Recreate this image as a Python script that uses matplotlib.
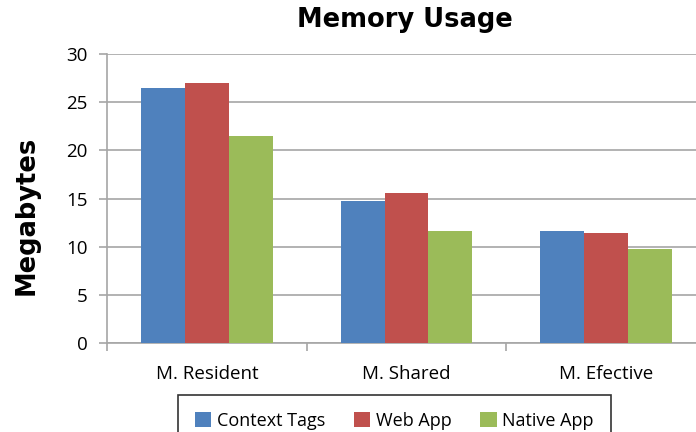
import matplotlib
matplotlib.use("Agg")
import matplotlib.pyplot as plt
import numpy as np

categories = ["M. Resident", "M. Shared", "M. Efective"]
series_names = ["Context Tags", "Web App", "Native App"]
context_tags = [26.5, 14.75, 11.6]
web_app = [27.0, 15.6, 11.4]
native_app = [21.5, 11.6, 9.75]
colors = ["#4F81BD", "#C0504D", "#9BBB59"]

W, H = 696, 432
fig = plt.figure(figsize=(W/100, H/100), dpi=100)
ax = fig.add_axes([107/W, 1-343/H, (706-107)/W, (343-54)/H])

x = np.arange(len(categories))
bw = 0.22
for i, (vals, name, c) in enumerate(zip([context_tags, web_app, native_app], series_names, colors)):
    ax.bar(x + (i-1)*bw, vals, bw, color=c, label=name, zorder=3, linewidth=0)

ax.set_xlim(-0.5, 2.5)
ax.set_ylim(0, 30)
ax.set_yticks(range(0, 31, 5))
ax.yaxis.grid(True, color="#A6A6A6", linewidth=1.2, zorder=0)
ax.set_xticks(x)
ax.set_xticklabels(categories, fontsize=13.5, family="Open Sans")
ax.set_xticks(np.arange(-0.5, 3, 1), minor=True)
ax.tick_params(axis="x", which="major", length=0, pad=16)
ax.tick_params(axis="x", which="minor", length=6, color="#A6A6A6", width=1.2)
ax.tick_params(axis="y", length=6, color="#A6A6A6", width=1.2, labelsize=13.5, pad=8)
for lab in ax.get_yticklabels():
    lab.set_family("Open Sans")
for s in ["top", "right"]:
    ax.spines[s].set_visible(False)
for s in ["left", "bottom"]:
    ax.spines[s].set_color("#A6A6A6")
    ax.spines[s].set_linewidth(1.2)

fig.text(405/W, 1-20/H, "Memory Usage", ha="center", va="center", fontsize=18.5, fontweight="bold", family="DejaVu Sans")
fig.text(27/W, 1-215/H, "Megabytes", ha="center", va="center", rotation=90, fontsize=18.5, fontweight="bold", family="DejaVu Sans")

leg = fig.legend(loc="upper left", bbox_to_anchor=(178/W, 1-395/H), ncol=3, frameon=True,
                 fancybox=False, edgecolor="black", prop={"family": "Open Sans", "size": 13},
                 handlelength=0.9, handleheight=0.9, handletextpad=0.3, columnspacing=1.6,
                 borderpad=0.95, borderaxespad=0)
leg.get_frame().set_linewidth(1.2)

fig.savefig("out.png", dpi=100)
